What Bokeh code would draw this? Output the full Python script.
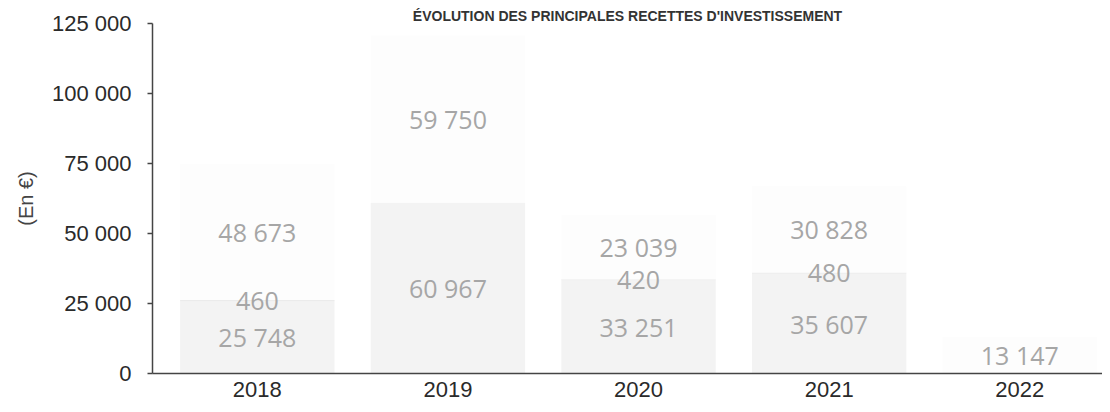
from bokeh.plotting import figure
from bokeh.models import Range1d, FixedTicker, ColumnDataSource
from bokeh.core.properties import value
from bokeh.embed import file_html
from bokeh.resources import INLINE

# ---- data ----
categories = ["2018", "2019", "2020", "2021", "2022"]
serie_bas = [25748, 60967, 33251, 35607, 0]
serie_milieu = [460, 0, 420, 480, 0]
serie_haut = [48673, 59750, 23039, 30828, 13147]
y_ticks = [0, 25000, 50000, 75000, 100000, 125000]
titre = "ÉVOLUTION DES PRINCIPALES RECETTES D'INVESTISSEMENT"
y_label = "(En €)"


def fmt(v):
    return f"{v:,}".replace(",", " ")


xs = list(range(len(categories)))
src = ColumnDataSource(dict(x=xs, bas=serie_bas, milieu=serie_milieu, haut=serie_haut))

p = figure(width=1102, height=404, output_backend="svg", toolbar_location=None,
           x_range=Range1d(-0.55, 4.434), y_range=Range1d(0, 125000),
           min_border_left=152, min_border_right=0, min_border_top=23, min_border_bottom=31)

p.title.text = titre
p.title.align = "center"
p.title.text_font = "Liberation Sans"
p.title.text_font_size = "14px"
p.title.text_font_style = "bold"
p.title.text_color = "#333333"
p.title.standoff = 0

p.vbar_stack(["bas", "milieu", "haut"], x="x", width=0.81, source=src,
             color=["#f3f3f3", "#ebebeb", "#fdfdfd"], line_color=None)

# labels at the centre of each non-zero segment
lx, ly, lt = [], [], []
for i, vals in enumerate(zip(serie_bas, serie_milieu, serie_haut)):
    base = 0
    for v in vals:
        if v:
            lx.append(xs[i])
            ly.append(base + v / 2)
            lt.append(fmt(v))
        base += v
p.text(x=lx, y=ly, text=lt, text_align="center", text_baseline="middle",
       text_font=value("Open Sans"), text_font_size="25px", text_color="#a6a6a6")

p.grid.visible = False
p.outline_line_color = None
p.background_fill_color = "white"

# x axis
xa = p.xaxis[0]
xa.ticker = FixedTicker(ticks=xs)
xa.major_label_overrides = {i: c for i, c in zip(xs, categories)}
xa.major_tick_out = 0
xa.major_tick_in = 0
xa.minor_tick_line_color = None
xa.axis_line_color = "#444444"
xa.axis_line_width = 1.5
xa.major_label_standoff = 8
xa.major_label_text_font = "Liberation Sans"
xa.major_label_text_font_size = "22px"
xa.major_label_text_color = "#2a2a2a"

# y axis
ya = p.yaxis[0]
ya.ticker = FixedTicker(ticks=y_ticks)
ya.major_label_overrides = {t: fmt(t) for t in y_ticks}
ya.major_tick_out = 5
ya.major_tick_in = 0
ya.minor_tick_line_color = None
ya.axis_line_color = "#444444"
ya.axis_line_width = 1.5
ya.major_tick_line_color = "#444444"
ya.major_tick_line_width = 1.5
ya.major_label_standoff = 16
ya.major_label_text_font = "Liberation Sans"
ya.major_label_text_font_size = "22px"
ya.major_label_text_color = "#2a2a2a"
ya.axis_label = y_label
ya.axis_label_text_font = "Liberation Sans"
ya.axis_label_text_font_size = "20px"
ya.axis_label_text_font_style = "normal"
ya.axis_label_text_color = "#444444"
ya.axis_label_standoff = 12

open("out.html", "w").write(file_html(p, INLINE))
